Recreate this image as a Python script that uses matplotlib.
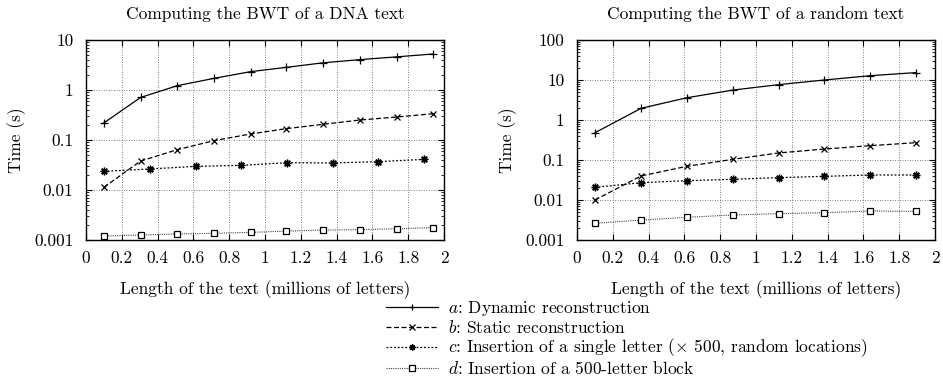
import matplotlib
matplotlib.use("Agg")
import matplotlib.pyplot as plt
from matplotlib.lines import Line2D

plt.rcParams['font.family'] = ['cmr10', 'DejaVu Serif']
plt.rcParams['mathtext.fontset'] = 'cm'
plt.rcParams['axes.unicode_minus'] = False

# ---- data: DNA text ----
dna_x_ab = [0.10, 0.305, 0.51, 0.715, 0.92, 1.12, 1.325, 1.53, 1.735, 1.94]
dna_a = [0.22, 0.71, 1.22, 1.71, 2.33, 2.84, 3.5, 4.05, 4.6, 5.25]
dna_b = [0.0113, 0.038, 0.064, 0.097, 0.132, 0.169, 0.206, 0.251, 0.288, 0.336]
dna_x_c = [0.10, 0.355, 0.613, 0.868, 1.125, 1.378, 1.633, 1.888]
dna_c = [0.0236, 0.0263, 0.0297, 0.0311, 0.0352, 0.0347, 0.0369, 0.041]
dna_d = [0.0012, 0.00126, 0.00132, 0.00136, 0.00142, 0.00151, 0.00158, 0.00161, 0.00168, 0.00177]

# ---- data: random text ----
rnd_x = [0.10, 0.358, 0.614, 0.871, 1.126, 1.382, 1.637, 1.893]
rnd_a = [0.48, 1.96, 3.6, 5.6, 7.65, 10.0, 12.8, 15.3]
rnd_b = [0.01, 0.04, 0.0695, 0.104, 0.15, 0.188, 0.228, 0.271]
rnd_c = [0.0207, 0.0271, 0.0304, 0.0329, 0.0362, 0.039, 0.0422, 0.0422]
rnd_d = [0.00261, 0.00316, 0.00369, 0.00422, 0.00455, 0.00482, 0.00531, 0.0052]

xticks = [0, 0.2, 0.4, 0.6, 0.8, 1, 1.2, 1.4, 1.6, 1.8, 2]
xticklabels = ['0', '0.2', '0.4', '0.6', '0.8', '1', '1.2', '1.4', '1.6', '1.8', '2']
dna_yticks = [0.001, 0.01, 0.1, 1, 10]
dna_ylabels = ['0.001', '0.01', '0.1', '1', '10']
rnd_yticks = [0.001, 0.01, 0.1, 1, 10, 100]
rnd_ylabels = ['0.001', '0.01', '0.1', '1', '10', '100']

titles = ['Computing the BWT of a DNA text', 'Computing the BWT of a random text']
xlabel = 'Length of the text (millions of letters)'
ylabel = 'Time (s)'
legend_labels = ['$a$: Dynamic reconstruction',
                 '$b$: Static reconstruction',
                 '$c$: Insertion of a single letter ($\\times$ 500, random locations)',
                 '$d$: Insertion of a 500-letter block']

styles = [
    dict(color='black', lw=0.9, ls='-', marker='+', ms=6, mew=0.9),
    dict(color='black', lw=0.9, ls=(0, (4, 2)), marker='x', ms=5, mew=0.9),
    dict(color='black', lw=0.9, ls=(0, (1.5, 1.5)), marker=(8, 2, 0), ms=5.5, mew=1.0),
    dict(color='#444444', lw=0.8, ls=(0, (1, 1)), marker='s', ms=5, mew=0.9, mfc='white', mec='black'),
]

FS = 12.5
W, H = 943, 378
fig = plt.figure(figsize=(W / 100, H / 100), dpi=100)
axL = fig.add_axes([86 / W, 1 - 240 / H, 358 / W, 200 / H])
axR = fig.add_axes([577 / W, 1 - 240 / H, 358 / W, 200 / H])

def setup(ax, title, yticks, ylabels, ylim):
    ax.set_yscale('log')
    ax.set_xlim(0, 2)
    ax.set_ylim(*ylim)
    ax.set_xticks(xticks)
    ax.set_xticklabels(xticklabels)
    ax.set_yticks(yticks)
    ax.set_yticklabels(ylabels)
    ax.tick_params(which='both', direction='in', top=True, right=True, labelsize=FS)
    ax.tick_params(axis='y', pad=9)
    ax.tick_params(axis='x', pad=8)
    ax.tick_params(which='major', length=4, width=0.8)
    ax.tick_params(which='minor', length=2, width=0.6)
    ax.grid(True, which='major', ls=(0, (1, 2)), color='#555555', lw=0.6)
    ax.set_title(title, fontsize=FS, pad=15)
    ax.set_xlabel(xlabel, fontsize=FS, labelpad=10)
    ax.set_ylabel(ylabel, fontsize=FS, labelpad=6)
    for s in ax.spines.values():
        s.set_linewidth(1.0)

setup(axL, titles[0], dna_yticks, dna_ylabels, (0.001, 10))
setup(axR, titles[1], rnd_yticks, rnd_ylabels, (0.001, 100))

axL.plot(dna_x_ab, dna_a, **styles[0])
axL.plot(dna_x_ab, dna_b, **styles[1])
axL.plot(dna_x_c, dna_c, **styles[2])
axL.plot(dna_x_ab, dna_d, **styles[3])

axR.plot(rnd_x, rnd_a, **styles[0])
axR.plot(rnd_x, rnd_b, **styles[1])
axR.plot(rnd_x, rnd_c, **styles[2])
axR.plot(rnd_x, rnd_d, **styles[3])

handles = [Line2D([], [], **st) for st in styles]
fig.legend(handles, legend_labels, loc='upper left', bbox_to_anchor=(386 / W, 1 - 299 / H),
           frameon=False, fontsize=FS, handlelength=3.0, handletextpad=0.6,
           labelspacing=0.05, borderpad=0, borderaxespad=0, markerscale=0.8)

fig.savefig('out.png', dpi=100)
